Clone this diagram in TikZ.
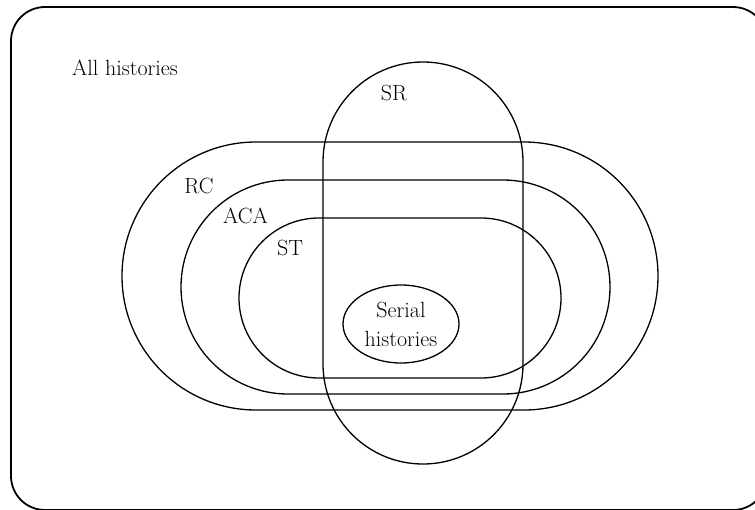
\documentclass[tikz,border=0pt]{standalone}
\usepackage{fontspec}
\usepackage{tikz}
\usetikzlibrary{shapes}

\begin{document}
\begin{tikzpicture}[x=1pt, y=-1pt, set/.style={draw, line width=1.3pt, rounded corners=#1pt}, lbl/.style = {inner sep=0pt, anchor=base, font=\fontsize{22}{29}\selectfont}]
\useasboundingbox (0,0) rectangle (755,509);
\clip (0,0) rectangle (755,509);
\draw[line width=1.8pt, rounded corners=34pt] (11,7) rectangle (767,510);
\foreach \xa/\ya/\xb/\yb/\r in {122/142/658/410/134, 181/180/610/394/107, 239/218/561/378/80, 323/62/523/464/100}{\draw[set=\r] (\xa,\ya) rectangle (\xb,\yb);}
\node[lbl] (all) at (125,75) {All histories};
\node[lbl] (sr) at (394,100) {SR};
\node[lbl] (rc) at (199,193) {RC};
\node[lbl] (aca) at (245.5,223) {ACA};
\node[lbl] (st) at (290,255) {ST};
\node[draw, ellipse, line width=1.3pt, minimum width=116pt, minimum height=78pt, inner sep=0pt, align=center, font=\fontsize{22}{29}\selectfont] (serial) at (401,324) {Serial\\histories};
\end{tikzpicture}
\end{document}
